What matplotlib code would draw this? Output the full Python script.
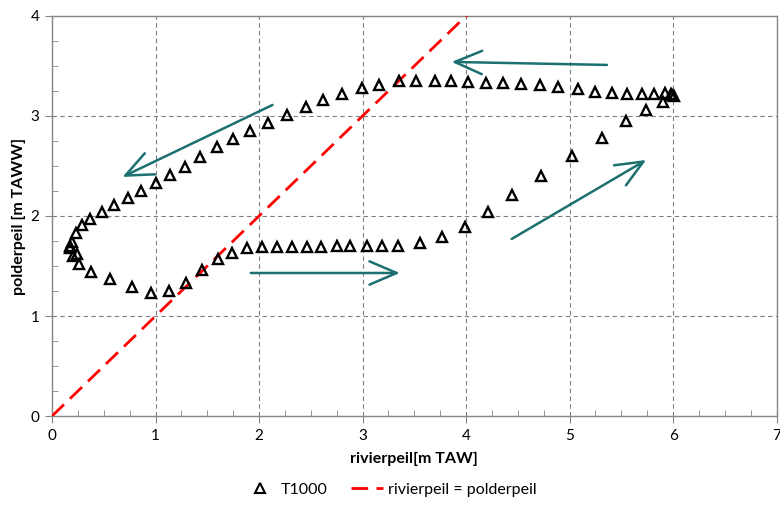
import matplotlib.pyplot as plt
import numpy as np
from matplotlib.lines import Line2D
from matplotlib.ticker import MultipleLocator

plt.rcParams['font.family'] = ['Lato', 'DejaVu Sans']

# T1000 event: river level vs polder level (m TAW)
rivier = [0.17, 0.20, 0.24, 0.26, 0.38, 0.56, 0.77, 0.96, 1.13, 1.29,
          1.45, 1.60, 1.74, 1.88, 2.03, 2.17, 2.32, 2.46, 2.60, 2.75,
          2.88, 3.04, 3.19, 3.34, 3.55, 3.77, 3.99, 4.21, 4.44, 4.72,
          5.02, 5.31, 5.54, 5.74, 5.90, 5.99, 6.01,
          5.98, 5.92, 5.82, 5.70, 5.55, 5.41, 5.25, 5.08, 4.89, 4.71,
          4.53, 4.36, 4.19, 4.02, 3.85, 3.70, 3.52, 3.35, 3.16, 2.99,
          2.80, 2.62, 2.45, 2.27, 2.09, 1.91, 1.75, 1.59, 1.43, 1.28,
          1.14, 1.00, 0.86, 0.73, 0.60, 0.48, 0.37, 0.29, 0.23, 0.19, 0.17]
polder = [1.68, 1.60, 1.62, 1.52, 1.44, 1.37, 1.29, 1.23, 1.25, 1.33,
          1.46, 1.57, 1.63, 1.68, 1.69, 1.69, 1.69, 1.69, 1.69, 1.70,
          1.70, 1.70, 1.70, 1.70, 1.73, 1.79, 1.89, 2.04, 2.21, 2.40,
          2.60, 2.78, 2.95, 3.06, 3.14, 3.21, 3.20,
          3.22, 3.23, 3.22, 3.22, 3.22, 3.23, 3.24, 3.27, 3.29, 3.31,
          3.32, 3.33, 3.33, 3.34, 3.35, 3.35, 3.35, 3.35, 3.31, 3.28,
          3.22, 3.16, 3.09, 3.01, 2.93, 2.85, 2.77, 2.69, 2.59, 2.49,
          2.41, 2.33, 2.25, 2.18, 2.11, 2.04, 1.97, 1.91, 1.83, 1.74, 1.70]

# rivierpeil = polderpeil reference line
lijn = [0, 7]

# direction arrows (start, end)
pijlen = [((5.36, 3.51), (3.86, 3.54)),
          ((2.13, 3.11), (0.68, 2.39)),
          ((1.92, 1.43), (3.36, 1.43)),
          ((4.44, 1.77), (5.74, 2.56))]

fig = plt.figure(figsize=(7.8, 5.13), dpi=100)
ax = fig.add_axes([0.0667, 0.189, 0.929, 0.78])

ax.plot(rivier, polder, linestyle='none', marker='^', markersize=7.5,
        markerfacecolor='none', markeredgecolor='black', markeredgewidth=1.7,
        zorder=4)
ax.plot(lijn, lijn, color='#ff0000', linewidth=2, dashes=(6, 3), zorder=3)

for (x0, y0), (x1, y1) in pijlen:
    ax.annotate('', xy=(x1, y1), xytext=(x0, y0),
                arrowprops=dict(arrowstyle='->,head_length=1.4,head_width=0.6',
                                color='#1d7070', lw=1.8, mutation_scale=14,
                                shrinkA=0, shrinkB=0), zorder=5)

ax.set_xlim(0, 7)
ax.set_ylim(0, 4)
ax.xaxis.set_major_locator(MultipleLocator(1))
ax.yaxis.set_major_locator(MultipleLocator(1))
ax.xaxis.set_minor_locator(MultipleLocator(0.25))
ax.yaxis.set_minor_locator(MultipleLocator(0.25))
ax.grid(which='major', linestyle=(0, (4, 3)), color='#7f7f7f', linewidth=0.8)
ax.set_axisbelow(True)

for s in ax.spines.values():
    s.set_color('#868686')
    s.set_linewidth(1)
ax.tick_params(which='major', direction='out', length=5, color='#868686',
               labelsize=11, pad=4)
ax.tick_params(which='minor', direction='in', length=4, color='#868686')

ax.set_xlabel('rivierpeil[m TAW]', fontsize=11.5, fontweight='bold', labelpad=7)
ax.set_ylabel('polderpeil [m TAWW]', fontsize=11.5, fontweight='bold', labelpad=3)

handles = [Line2D([], [], linestyle='none', marker='^', markersize=6.5,
                  markerfacecolor='none', markeredgecolor='black',
                  markeredgewidth=1.5),
           Line2D([], [], color='#ff0000', linewidth=2, dashes=(6, 3))]
fig.legend(handles, ['T1000', 'rivierpeil = polderpeil'], loc='center',
           bbox_to_anchor=(0.5, 0.045), ncol=2, frameon=False, fontsize=11.5,
           handlelength=2, columnspacing=1.5, handletextpad=0.3)

fig.savefig('out.png', dpi=100)
